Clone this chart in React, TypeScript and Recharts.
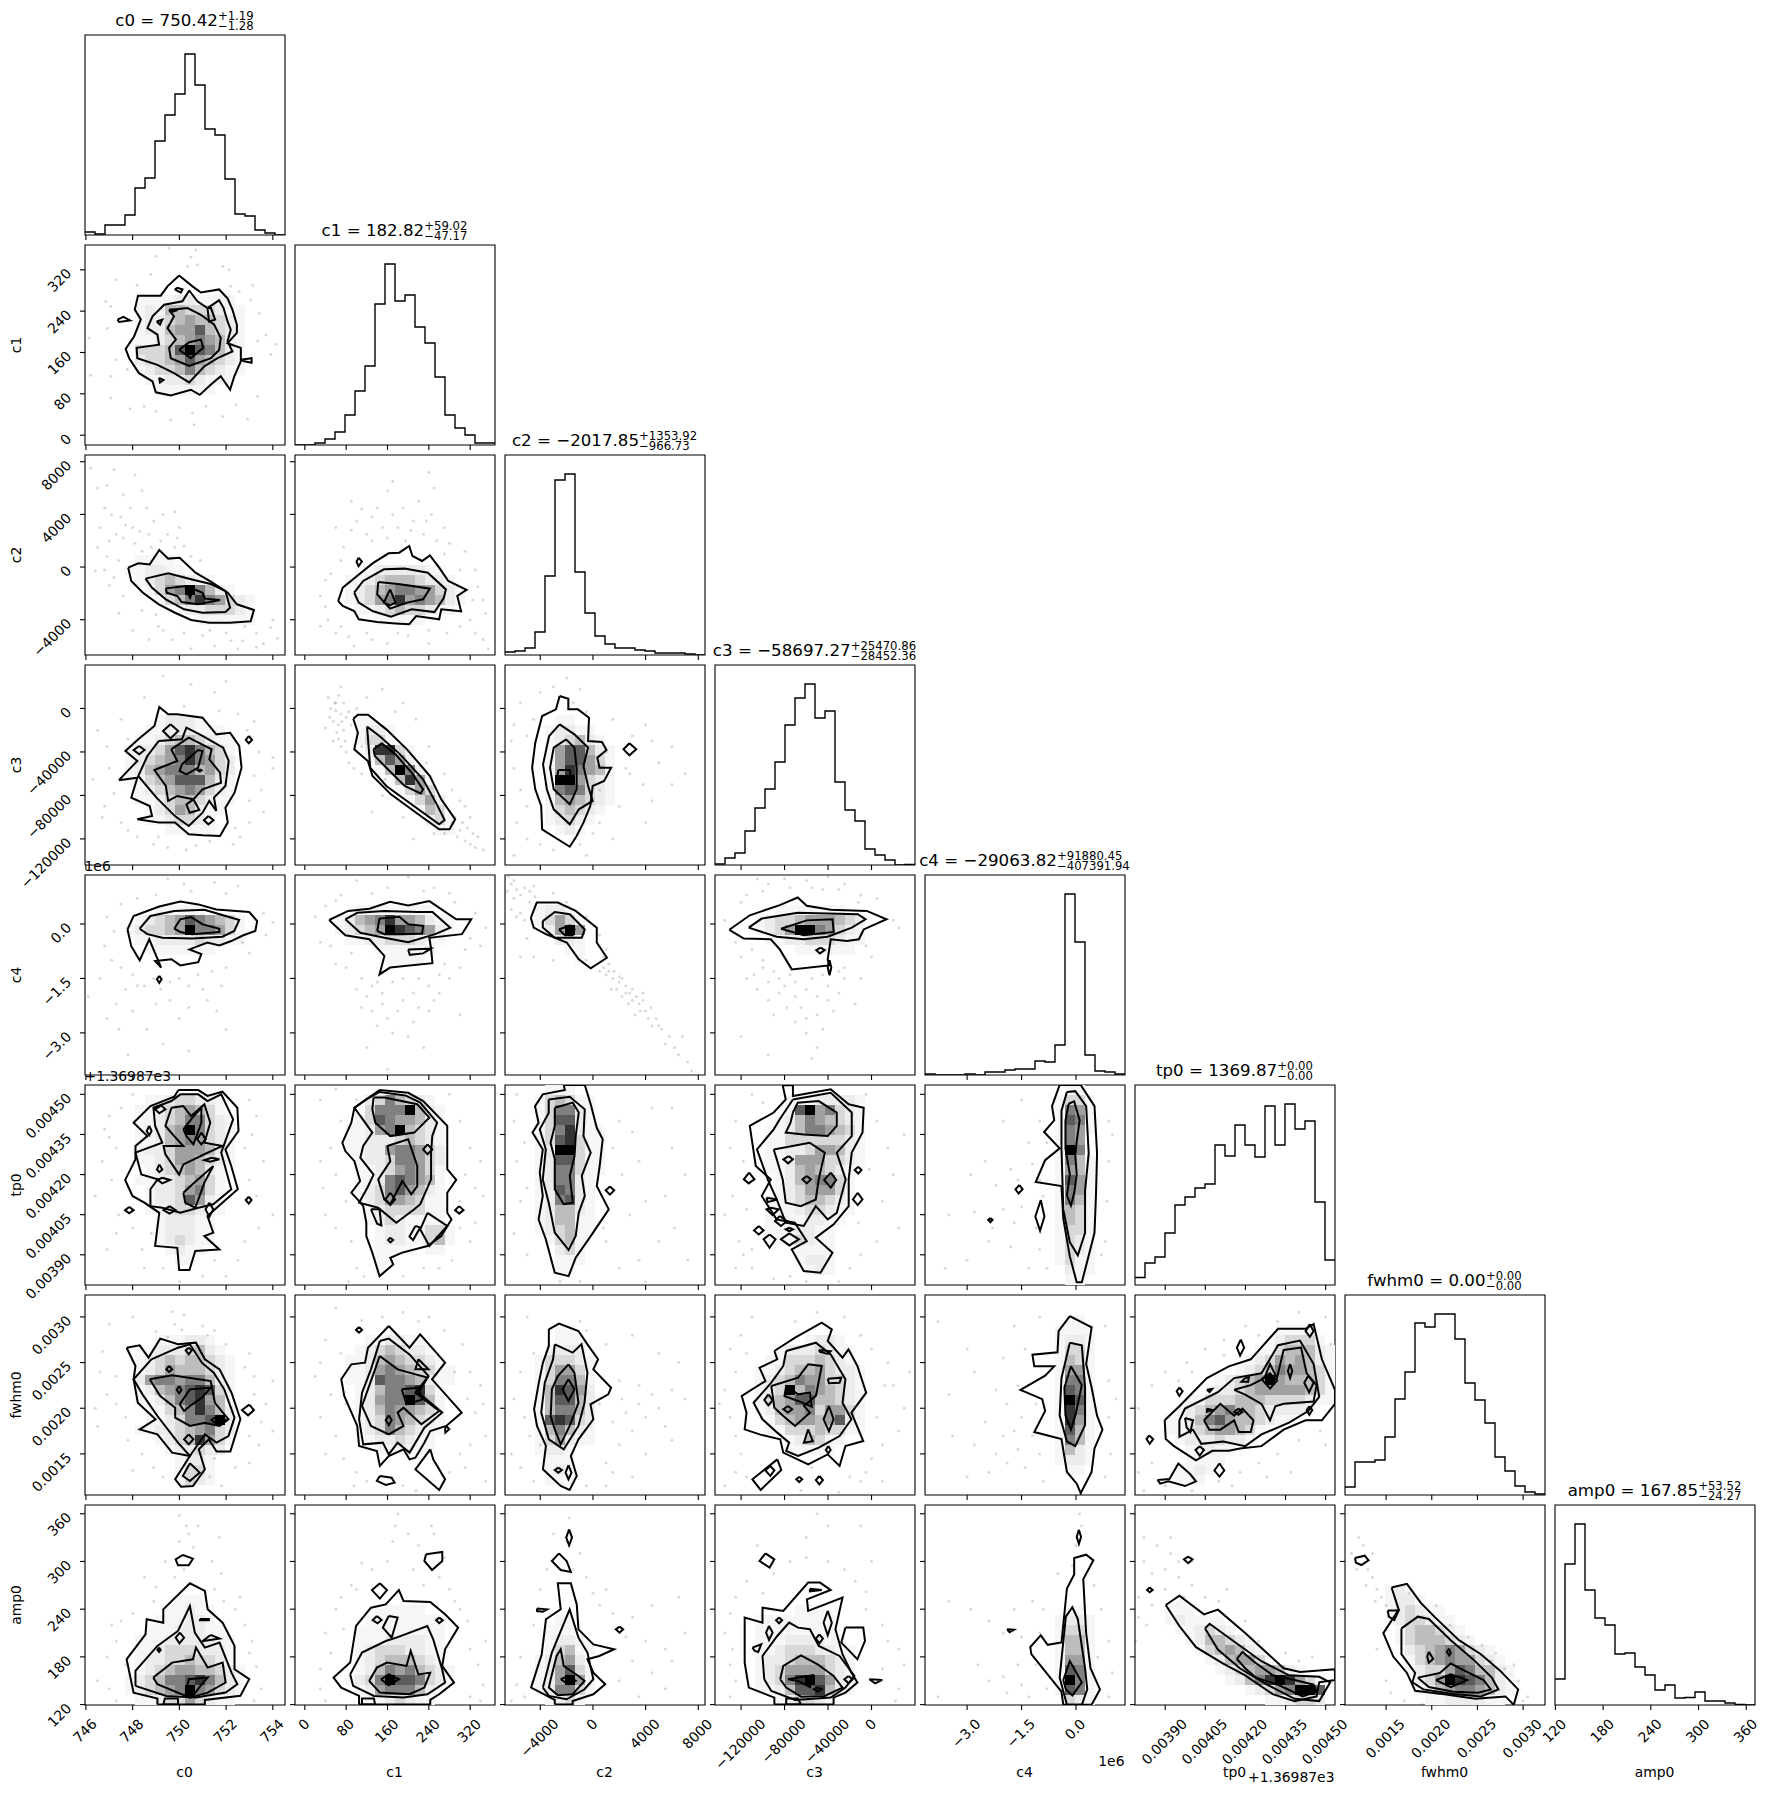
import React from 'react';
import { ComposedChart, Line, Scatter, XAxis, YAxis, ReferenceArea } from 'recharts';

const names = ['c0','c1','c2','c3','c4','tp0','fwhm0','amp0'];
// axis units: c2 in hundreds, c3 in thousands, c4 in 1e6, tp0 and fwhm0 in 1e-5
const domains: [number,number][] = [[745.96,754.52],[-19,368],[-66.8,85.1],[-144,40],[-4.16,1.35],[378.7,453.5],[105,324],[119.5,371]];
const axisTicks = [[746,748,750,752,754],[0,80,160,240,320],[-40,0,40,80],[-120,-80,-40,0],[-3,-1.5,0],[390,405,420,435,450],[150,200,250,300],[120,180,240,300,360]];
const M = '\u2212';
const tickText = [
  (v:number)=>String(v),(v:number)=>String(v),
  (v:number)=>(v<0?M:'')+Math.abs(v*100),
  (v:number)=>(v<0?M:'')+Math.abs(v*1000),
  (v:number)=>(v<0?M:'')+Math.abs(v).toFixed(1),
  (v:number)=>(v/100000).toFixed(5),
  (v:number)=>(v/100000).toFixed(4),
  (v:number)=>String(v),
];
const hists = [
 [3,1,10,10,20,47,57,94,120,141,181,150,106,100,56,21,19,5,2,0],
 [0,0,2,6,13,30,54,79,141,181,144,150,118,102,68,30,17,10,2,2],
 [3,4,7,23,79,175,181,83,42,19,11,7,7,5,4,2,2,2,1,0],
 [1,7,12,34,57,76,103,140,167,181,147,154,83,55,44,16,10,5,0,0.5],
 [1,0,0,0,1,0,3,3,5,6,6,14,13,30,181,133,20,4,3,1],
 [7.5,22,28,52,80,88,97,101,140,129,160,140,128,179,140,181,156,164,83,25],
 [8,33,33,35,58,96,123,172,168,181,181,156,112,95,72,38,24,9,3,1],
 [26,141,181,115,87,80,51,52,38,30,15,20,7,7.5,13,4,4,2,0.5,0],
];
const titles: [string,string,string][] = [
 ['c0 = 750.42','+1.19',M+'1.28'],['c1 = 182.82','+59.02',M+'47.17'],['c2 = '+M+'2017.85','+1353.92',M+'966.73'],
 ['c3 = '+M+'58697.27','+25470.86',M+'28452.36'],['c4 = '+M+'29063.82','+91880.45',M+'407391.94'],['tp0 = 1369.87','+0.00',M+'0.00'],
 ['fwhm0 = 0.00','+0.00',M+'0.00'],['amp0 = 167.85','+53.52',M+'24.27'],
];
const levels = ['#ffffff','#f6f6f6','#ececec','#d8d8d8','#bdbdbd','#a0a0a0','#808080','#5c5c5c','#333333','#000000'];

type PanelData = { bins: [number,number,string[]]; lines: number[][]; dots: number[] };

const c1_c0: PanelData = {
  bins:[5,5,['11112211110','12144333211','12234544321','12245574321','11234565421','33347976421','23345754321','12334643211','01122321110','00111111000']],
  lines:[
   [749.99,309,750.56,288,750.92,276,751.7,282,752.06,265,752.27,243,752.46,214,752.46,198,752.06,178,752.63,169,752.63,143,752.35,114,752.17,88,751.77,114,751.35,98,750.87,78,750.49,88,749.63,77,748.99,83,748.85,104,748.27,120,747.85,149,747.7,167,748.06,191,748.35,224,748.09,243,748.23,270,749.2,270,749.49,288],
   [750.42,280,750.77,259,751.2,246,751.7,261,751.89,246,752.06,220,752.2,204,752.06,182,752.27,162,751.63,149,751.06,133,750.42,102,749.77,120,749.06,136,748.2,149,748.17,169,749.13,175,749.06,194.5,748.63,207,748.85,230,749.35,252.5,750.13,259],
   [749.56,242,750.35,246,750.92,233,751.49,214,751.77,188,751.7,165,751.35,149,750.42,134,749.63,149,749.56,169,749.85,185,749.49,207,749.77,230],
   [749.99,165,750.42,180,750.92,185,751.02,169,750.49,149],
   [747.35,223.5,747.6,229,747.89,222,747.42,219],[749.8,282,749.92,285,750.13,282,750.06,276],[749.03,220,749.27,223.5,749.17,214],
   [752.63,146,753.09,149,753.09,140,752.77,143],[749.13,111,749.32,107,749.17,102],[749.56,243,749.92,242,749.66,238],[751.2,246,751.27,220,751.53,223.5,751.35,246],
  ],
  dots:[749.56,362,750.7,359,748.99,346,750.49,345,750.35,327,750.77,330,751.85,327,752.13,320,747.27,301,748.2,290,748.77,311,752.2,288,753.13,290,752.56,278,753.06,262,746.85,259,747.06,249,753.42,236,746.92,207,746.13,188,753.7,194,753.35,182,754.13,176,753.92,156,747.27,146,746.2,116,747.06,114,747.77,127,753.35,75,747.06,72,747.89,51,748.49,56,748.99,46,749.63,30,750.56,43,750.63,20,751.85,36,752.42,59,752.92,31,751.13,56],
};
const c2_c0: PanelData = {
  bins:[4,10,['0111100000000','1122110000000','0123432110000','0013569642100','0001346865321','0000012233321','0000000111111']],
  lines:[
   [747.81,-0.5,748.24,2.8,748.73,2,749.14,12.9,749.52,6.4,750.01,7.1,750.69,-4.3,751.38,-11.4,752.07,-19.5,752.46,-28.3,753.19,-32.6,753.05,-41.2,752.17,-42.3,751.28,-42.3,750.5,-40.2,749.81,-34.7,749.12,-28.3,748.44,-19.5,747.94,-10.6],
   [748.55,-8.8,749.52,-4.8,750.5,-9.3,751.38,-13.1,751.97,-18.2,752.17,-30.9,751.97,-34.2,750.99,-34.7,750.2,-32.1,749.42,-24.5,748.83,-15.7],
   [749.42,-16.2,750.3,-14.4,750.99,-19.5,751.09,-24,751.74,-25,750.79,-28.3,750.1,-26.6,749.91,-22,749.46,-19.5],
   [750.26,-15.7,750.6,-15.7,750.46,-23.3],
  ],
  dots:[746.2,75,747.2,74,746.9,62,748.1,70,746.8,45,747.1,40,747.5,38,747.7,32,748,30,748.3,27,748.6,45,748.9,35,749.3,40,749.8,42,750,30,747.6,22,748.1,18,748.4,12,748.8,15,749.2,20,749.8,15,750.2,16,750.5,8,750.9,5,746.9,8,746.4,-3,747.2,-8,747,-14,747.6,-22,748.4,-33,749,-36,748,-48,749.3,-48,750.2,-50,751,-52,752,-50,752.7,-56,753.3,-50,753.9,-46,754,-40,754.2,-54,751.5,-60,752.5,-62,753.3,-61,750.5,-62,748.7,-55,746.5,60,747.6,55,748.4,58,747.3,25,747.9,45,748.7,25,749.5,25,749.9,22,746.6,30,747,20,746.5,15,747.4,5,746.8,-2,752.8,-45,753.6,-58,752.2,-56,751.3,-48,749.7,-55,749.1,-45,747.4,-35],
};
const c2_c1: PanelData = {
  bins:[5,11,['0112222211000','1123444322100','1234566553210','1235685654210','0112343321100','0001111100000']],
  lines:[
   [64.5,-25.8,73.4,-15.7,113,-3,131,2.8,162,10.4,182.6,10.9,202,16,208.3,8.4,227,4.6,242,8.9,260,-0.5,277.6,-10.6,313,-17.4,295,-22,302.5,-33.6,264,-32.1,260,-39.7,215.4,-37.2,202,-43.5,175.5,-42.8,140,-41.8,104.4,-39.7,95.6,-33.4,73.4,-29.6],
   [95.6,-19.5,113,-10.6,153,-1.7,193,-1.2,238,-4.3,273,-17,269,-23.3,251,-34.2,206.6,-32.1,166.6,-37.7,131,-33.4,104.4,-27],
   [142,-11.4,184.4,-13.1,242,-16.4,229,-24.5,197.7,-27,165,-31.6,140,-20.7],
   [165,-17,175.5,-27,165,-29.1,153,-27],
   [104,7.1,110.5,4.1,104,0.8,100,4.1],
  ],
  dots:[170,65,240,72,250,60,160,58,90,50,110,44,130,38,190,45,220,50,245,40,270,30,150,30,120,25,180,30,230,25,90,28,60,30,195,20,70,5,270,10,310,12,330,-2,40,-10,30,-22,345,-25,350,-35,30,-45,60,-50,85,-53,95,-60,130,-55,160,-58,200,-52,240,-58,275,-50,300,-45,320,-40,345,-55,355,-62,40,-30,335,-15,100,35,140,45,170,40,210,35,130,20,160,22,205,28,235,35,255,20,280,18,75,15,50,-5,45,-40,300,-2,325,-25,330,-50,240,-48,180,-50,120,-50,70,-45],
};
const c3_c0: PanelData = {
  bins:[4,5,['00012221000','00112221110','01123443211','12235786431','12345686532','12456664532','11345777421','01234565321','01123443211','00123542110','00112332100','00001111100']],
  lines:[
   [747.41,-66,748.2,-63.7,747.94,-82,748.73,-89.7,748.83,-99,748.2,-102,749.12,-105,749.81,-105,750.4,-115.8,750.99,-116.7,751.74,-117.3,752.07,-105,751.97,-91.3,752.36,-77.5,752.66,-54.5,752.56,-34.5,752.17,-22.3,751.58,-23.8,750.99,-8.5,749.91,-5.4,749.52,-5.4,749.14,1.4,748.93,-16.1,748.24,-28.4,747.69,-39.1,748.2,-48.3,747.85,-56],
   [749.12,-29.9,750.11,-28.4,750.3,-17.7,750.99,-25.3,751.87,-36,752.11,-48.3,751.97,-71.3,751.48,-82,751.58,-94.3,751.28,-85,750.99,-95.9,750.4,-108.1,749.81,-99,749.02,-82,748.24,-62.1,748.63,-43.7],
   [749.65,-37.6,750.4,-26.9,751.38,-37.6,751.28,-46.8,751.74,-59,751.78,-68.3,750.99,-74.4,750.6,-83.6,749.91,-80.5,749.52,-85.1,749.42,-71.3,748.93,-56.6,749.91,-48.3],
   [750.11,-51.4,750.8,-38.2,750.99,-39.1,750.8,-54.5,750.3,-60.6,750.01,-57.5],
   [749.62,-14.6,749.95,-20.7,749.62,-27.5,749.3,-20.7],[748.28,-34.5,748.51,-38.2,748.28,-42.2,748.04,-38.2],[752.97,-25.3,753.11,-29,752.97,-32,752.84,-29],[751.24,-98.9,751.46,-102.9,751.24,-106.6,751.05,-102.9],[750.6,-83.6,750.85,-93.4,750.44,-95.9,750.3,-88.2],[750.87,-56,750.95,-56.9,750.87,-58.1,750.79,-56.9],
  ],
  dots:[749.3,30,750.5,22,752,25,751.5,15,748.5,10,749.3,-2,750.2,2,751.7,-2,752.5,-5,753.2,-12,752.9,-20,747.5,-10,746.5,-20,747.8,-28,746.9,-35,753.4,-40,754,-45,747,-55,746.3,-65,747.2,-78,753.2,-62,754,-55,753.5,-75,753,-85,746.8,-90,746.7,-100,747.5,-105,748.2,-118,748.9,-125,749.5,-128,750.3,-130,750.7,-126,751.3,-122,752.3,-125,752.6,-118,753,-105,753.6,-95,752.4,-110,749.1,-118,747.8,-112],
};
const c3_c1: PanelData = {
  bins:[6,5,['110000000000','122100000000','133100000000','028831000000','014752000000','001496200000','000148510000','000013530000','000001352000','000000143000','000000023100','000000001100']],
  lines:[
   [93.8,-9.4,102.7,-5.7,122.2,-5.7,157.7,-19.2,197.7,-37.6,242,-62.1,264,-83.6,291,-102,280,-111.2,260,-111.2,228.8,-100.5,166.6,-79,131,-62.1,122,-48.3,95.6,-37.6,102.7,-22.3],
   [120.4,-16.7,144.4,-25.3,184.4,-42.2,228.8,-65.2,255.4,-88.2,270.5,-102.6,260,-106.6,211,-89.7,157.7,-71.3,126.6,-54.5],
   [132.9,-37.6,148.8,-32.1,175.5,-42.2,206.6,-59,228.8,-74.4,224.3,-78.1,193.2,-71.3,157.7,-54.5,135.5,-43.7],
  ],
  dots:[45,10,70,20,65,12,75,5,50,0,60,-2,70,-5,80,-8,55,-12,65,-15,75,-20,40,-18,85,-3,55,-30,65,-28,80,-40,70,-35,85,-50,100,0,120,10,150,18,190,5,215,-10,240,-35,270,-60,285,-75,310,-90,300,-112,295,-118,310,-122,325,-115,330,-128,345,-130,285,-105,250,-115,190,-100,150,-80,110,-60,130,-95,210,-120,60,5,72,-12,48,-8,62,-22,78,-30,58,5,90,-15,95,-55,110,-35,175,-3,235,-50,300,-85,320,-100,305,-105,315,-110,335,-118,320,-125,290,-100,270,-115,155,-65],
};
const c3_c2: PanelData = {
  bins:[4,5,['0110000000','1221100000','1234210000','1577421000','1577531000','1586541000','1995321000','1676321000','1454321000','1343210000','1232100000','0121000000']],
  lines:[
   [-25.3,11.5,-18.7,9,-18.7,-0.8,-11.4,-0.8,-3,-8.5,-3.7,-29.9,6.8,-30.8,10.3,-38.2,3.3,-45.3,5,-54.5,13.8,-54.5,8.5,-66.7,-0.2,-71.3,-2,-89.7,-7.2,-105,-12.4,-117.3,-17.6,-127.2,-38.6,-111.2,-39.3,-89.7,-43.8,-74.4,-46.2,-54.5,-43.8,-31.5,-38.6,-6.9,-28.1,-0.8],
   [-25.3,-14.6,-14.1,-23.8,-3.7,-36,-7.2,-52.9,-3.7,-71.3,-0.2,-85.1,-10.7,-92.8,-17.6,-106.6,-29.8,-92.8,-35,-74.4,-37.9,-51.4,-33.3,-25.3],
   [-20.4,-28.4,-14.1,-36,-12.4,-54.5,-12.4,-74.4,-17.6,-88.2,-29.8,-74.4,-32.6,-54.5,-29.8,-36],
   [-26.3,-56.6,-17.6,-56.6,-15.9,-68.3,-28,-69.2],
   [27.7,-32,32.9,-37.6,27.7,-43.1,23.2,-37.6],
  ],
  dots:[-30,20,-20,28,-40,15,-10,18,-55,5,-60,-15,-62,-30,-50,-25,-45,-10,-15,5,-5,-3,15,-10,40,-15,45,-30,30,-25,10,-40,25,-55,50,-50,60,-70,70,-60,38,-70,45,-85,20,-90,5,-75,-60,-55,-55,-75,-50,-90,-58,-105,-50,-120,-30,-130,-10,-125,0,-115,5,-105,15,-120,40,-105,-5,-135,-60,-135,-40,-125,28,-60,60,-35],
};
const c4_c0: PanelData = {
  bins:[4,3,['0001111100000','0123457654310','1233459665310','0112222322110','0011111110000']],
  lines:[
   [747.78,-.15,748.04,.22,749.14,.48,750.04,.62,750.81,.54,751.58,.4,752.99,.33,753.33,.08,753.25,-.19,752.74,-.31,752.22,-.47,751.71,-.59,751.2,-.51,750.43,-.7,750.94,-.83,750.81,-1.05,750.04,-1.14,749.66,-.97,748.96,-1.02,749.22,-1.2,748.71,-.42,748.3,-1,747.94,-.61],
   [748.3,-.13,748.76,.22,749.78,.36,751.07,.39,752.56,.11,752.35,-.19,751.84,-.35,750.55,-.4,749.27,-.38,748.63,-.28],
   [749.78,-.13,750.04,.13,750.5,.19,751,-.01,751.71,-.13,751.71,-.22,750.55,-.28,750.04,-.22],
   [749.14,-1.43,749.24,-1.52,749.14,-1.62,749.04,-1.52],
  ],
  dots:[749.5,1.25,750.2,1.1,751.5,1.15,752.5,1.05,752,.85,750.5,.9,749,.8,748.2,.7,747.5,.55,746.9,.2,747.2,-.2,753.6,.3,754,.05,753.7,-.3,752.7,-.5,753,-.8,746.8,-.6,747.1,-1,747.5,-1.2,746.6,-1.5,748,-1.4,748.5,-1.7,749.2,-1.8,750,-1.5,750.8,-1.4,751.4,-1.3,752,-1.2,749.6,-2.1,750.4,-2.3,751.2,-2.1,748,-2.4,747.4,-2.9,748.6,-2.9,749.3,-3.3,750.4,-3.5,752,-2.9,747.8,-3.6,751.8,-1.7,746.1,-2,746.9,-2.6,748.2,-1.7,748.9,-1.5,749.6,-1.6,750.4,-1.7,751,-1.8,747.7,-1.8,749,-2.2,750,-2.6,747.3,-2.2,751.6,-2.4],
};
const c4_c1: PanelData = {
  bins:[4,3,['0011111111000','1245685542110','1234598765210','0112233321100','0000111111000','0000011110000']],
  lines:[
   [47,.11,84,.36,125,.42,165,.61,200,.51,241,.63,293,.13,322,.13,304,-.28,241,-.38,244,-.65,247,-1.08,165,-1.2,144.6,-1.39,154,-.88,125,-.42,78.4,-.31],
   [78.4,.13,101.6,.31,154,.36,217.6,.33,247,.33,281.4,-.1,252.4,-.28,200,-.5,154,-.38,107.4,-.24],
   [140,-.19,144.6,.15,183,.2,200,-.01,229,-.05,227,-.26,188.6,-.28,154,-.28],
   [200,-.7,244,-.68,229,-.81,203,-.85],
  ],
  dots:[100,1.2,200,1.3,160,1,230,.9,280,.85,70,.8,40,.5,20,.2,330,.3,350,-.1,340,-.6,310,-.7,30,-.5,50,-.6,90,-.8,80,-1.2,60,-1.1,270,-1.1,300,-1.2,110,-1.5,130,-1.7,170,-1.6,220,-1.5,240,-1.7,280,-1.5,120,-2,150,-2.2,190,-2.1,220,-2.3,130,-2.4,160,-2.6,210,-2.7,250,-2.1,170,-3,200,-3.1,120,-3.4,230,-3.4,160,-4,300,-2.5,260,-1.9,140,-1.6,190,-1.5,150,-1.9,210,-1.9,110,-2.3,180,-2.4,240,-2.4,140,-2.8,260,-1.4,100,-1.8,130,.85,250,1,290,.6,60,.65,320,-.4],
};
const c4_c2: PanelData = {
  bins:[3,3,['12210','13531','02595','00221','00011','00001']],
  lines:[
   [-47.2,.17,-42.7,.59,-26.7,.59,-13.1,.36,2.9,-.1,2.9,-.51,10.6,-.93,-1.7,-1.22,-10.8,-.97,-19.9,-.51,-35.8,-.28,-45,-.1],
   [-38.1,.08,-29,.33,-17.6,.27,-6.2,-.15,-8.5,-.38,-29,-.38,-38.1,-.1],
   [-25.8,-.15,-17.6,-.04,-14,-.15,-15.3,-.31,-21.3,-.31],
  ],
  dots:[-64,1.3,-62,1.1,-58,.95,-60,.7,-52,1,-48,.9,-45,1.05,-62,.4,-55,.3,-52,.1,-50,-.4,-55,-.9,-30,.85,-20,.6,-5,.2,5,-.3,10,-.7,-45,-.9,-30,-1,-5,-1,12,-1.1,5,-1.3,10,-1.4,15,-1.5,20,-1.6,25,-1.7,18,-1.8,28,-1.9,22,-2,30,-2.1,35,-2.2,40,-2.4,32,-2.5,42,-2.6,48,-2.6,45,-2.8,52,-2.9,58,-3.1,55,-3.3,62,-3.4,65,-3.6,72,-3.8,75,-4.05,68,-3.1,38,-1.9,14,-1.8,-60,1.2,-55,.8,-65,.9,-48,.6,-58,.2,-44,.75,8,-.9,8,-1.2,12,-1.3,16,-1.3,20,-1.45,22,-1.5,25,-1.9,30,-1.8,33,-2,27,-2.2,36,-2.4,38,-2.1,44,-2.3,50,-2.8],
};
const c4_c3: PanelData = {
  bins:[4,3,['00111111100','12334555432','12359965321','01122333211','00001111110']],
  lines:[
   [-130.8,-.16,-112,.24,-84.4,.52,-67.9,.73,-59.6,.5,-37.5,.39,-4.4,.36,13.8,.13,-7.2,-.15,-11.6,-.42,-22.6,-.47,-37.5,-.42,-40.3,-.97,-39.2,-1.14,-73.4,-1.25,-84.4,-.7,-92.7,-.42,-117.5,-.4],
   [-113,-.1,-101,.15,-67.9,.31,-12.7,.27,-5.5,.13,-18.2,-.1,-40.3,-.35,-62.4,-.42,-87.2,-.35],
   [-83.3,-.13,-59.6,.1,-35.9,.13,-34.8,-.22,-62.4,-.31],
   [-46.9,-.65,-43,-.72,-47.5,-.81,-50.8,-.72],[-38.6,-1,-37,-1.2,-38.6,-1.41,-40.3,-1.2],
  ],
  dots:[-105,1.25,-95,1.1,-80,1.25,-60,1.2,-40,1.3,-25,1.1,-45,.95,-100,.9,-115,.8,-10,.8,5,.7,-135,.1,20,.1,25,-.1,-125,-.5,-110,-.7,-5,-.6,0,-.9,-120,-.9,-100,-1.2,-108,-1.4,-95,-1.6,-85,-1.5,-70,-1.6,-55,-1.5,-40,-1.7,-25,-1.5,-10,-1.5,-105,-1.8,-85,-1.9,-70,-2,-50,-2,-30,-1.9,-15,-2.2,-90,-2.5,-70,-2.7,-50,-2.5,-35,-2.4,-60,-3,-50,-3.4,-120,-3.1,-95,-3.6,-55,-3.7,-75,1,-55,1,-30,.95,-12,.6,-120,.6,-100,-1,-90,-1.3,-75,-1.4,-60,-1.8,-45,-1.4,-30,-1.3,-95,-2.1,-80,-1.7,-65,-2.3,-40,-2.1,-60,-2.6,-78,-2.3,-45,-2.9,-25,-1.2,-115,-1.5],
};
const tp0_c0: PanelData = {
  bins:[5,1,['0112332210','1123454310','1123466321','1124596321','1124565321','1223555421','1123554321','0123454210','1122345310','0122356310','0122375210','0112332110','0012221100','0012221100','0012321100','0001211000','0000110000']],
  lines:[
   [749.96,451.6,750.81,451.6,751.2,449.4,751.84,451,752.48,445,752.53,436.3,751.97,429.4,752.22,423.2,752.5,414.5,751.84,409.5,751.2,404.5,751.45,398.3,751.07,397,751.71,392,750.68,391.4,750.43,384.3,749.99,384.3,749.91,392.6,748.96,393.3,749.14,405.7,748.5,409.5,747.99,412,747.68,418,748.12,425.7,748.12,430.7,748.63,434.4,748.04,439.4,748.76,445.6,749.78,449.1],
   [750.04,450,750.81,450,751.2,447.5,751.79,450,752.3,440.7,751.79,428.2,752.22,414.5,751.45,408.9,750.81,407.6,750.04,405.7,749.27,407.6,748.76,408.2,748.76,414.5,749.07,418.2,748.37,420,748.12,428.2,749.27,431.9,748.96,438.2,748.89,445,749.66,447.5],
   [749.66,445,750.17,445.6,750.5,441.9,751.07,446.3,751.32,439.4,751.07,431.9,751.84,430.7,751.07,427.6,750.17,423.8,749.99,420,749.4,427.6,749.32,430.7,750.17,430.7,749.78,434.4,749.4,438.2],
   [750.17,436.9,750.56,441.3,750.94,445,750.94,439.4,750.6,431.3,750.3,434.4],
   [750.17,413.2,750.55,416.3,751.45,423.2,751.07,417,750.68,407.6,750.25,409.5],
   [749.22,445.9,749.4,444.4,749.14,442.9,748.96,444.4],[748.71,438.2,748.81,436.3,748.71,434.7,748.6,436.3],[750.94,435.7,751.12,433.2,750.94,431.3,750.76,433.2],[751.38,426.3,751.71,425.7,751.32,424.8,751.07,425.4],[749.14,423.8,749.27,421.9,749.14,420.9,749.04,421.9],[749.27,418.8,749.6,418,749.27,416.7,749.07,418],[749.58,408.2,749.84,406.7,749.58,405.4,749.32,406.7],[751.28,409.5,751.45,407,751.28,404.2,751.12,407],[747.85,407.9,748.04,406.7,747.85,405.5,747.67,406.7],[752.97,411.7,753.09,410.5,752.97,409.1,752.84,410.5],
  ],
  dots:[748,450,747.5,445,747,442,746.8,437,747.3,430,753,448,753.3,442,753.1,435,753.6,425,752.8,430,746.7,425,747.1,418,746.4,412,747.4,405,747.3,398,746.9,392,753.3,412,754,405,753.4,400,752.8,395,752.5,388,748,400,748.4,392,749.3,385,748.5,385,751.5,388,751,382,750,380,752,382,748.8,398,753,418,747,434],
};
const tp0_c1: PanelData = {
  bins:[5,1,['00236432100','00366694210','01376554210','11256943210','11222343210','11225665320','01223665320','01123565310','01126765410','01236754210','00235543110','00123333110','00123211110','00012211331','00012211341','00011110110','00011000000','00010000000']],
  lines:[
   [144.6,451.6,200,450.6,229,447.5,275.6,438.2,275.6,430.7,275.6,422,293,418,275.6,413.2,275.6,405.7,283.8,403.2,264,397,237.4,393.3,188.6,390.8,165.4,388.9,171,386.4,144.6,382,130.6,390.8,119,397,119,402,113,408.2,105,410.1,90,413.2,107,417.6,96,425,78.4,428.8,72.6,431.9,90,439.4,96,445],
   [144.6,450.9,194.4,449.6,223.4,446.9,256,439.4,246.6,434.4,244.3,428.2,244.3,418.2,223.4,408.9,211.8,407,177,402,142,407.6,105,409.5,121,415.1,133,420,107.4,426.3,113,430.7,130.6,435.7,96,445,119,448.1],
   [133,448.8,153.8,448.8,217.6,446.3,240.8,441.3,211.8,435.7,165.4,434.4,136.4,439.4,130.6,444.4],
   [159.6,430.7,200,433.2,217.6,423.2,217.6,415.7,206,412.6,188.6,417.6,165.4,408.9,153.8,410.7,142,418.2,165.4,425],
   [237.4,431.3,246.6,429.4,237.4,427.6,229,429.4],[165.4,413.2,174.7,410.7,165.4,408.6,156,410.7],[128,407,144.6,407,148,401,140,401.6],[165.4,396.4,171,395.5,165.4,394.6,161,395.5],[214,400.8,223.4,400.2,209.5,395.5,202.5,396.8],[237.4,405.7,275.6,400.8,241,393.3,223.4,399.5],[298.8,408.2,307,406.7,298.8,405.4,290.7,406.7],
  ],
  dots:[30,448,60,452,100,448,280,450,300,440,320,430,340,425,310,420,330,415,345,412,50,430,30,425,60,420,80,410,40,405,60,400,90,395,100,385,85,380,115,382,300,400,320,395,285,388,260,385,70,440,300,410,330,402,35,415,190,382,230,385],
};
const tp0_c2: PanelData = {
  bins:[3,0,['0111000','1343110','1366210','1377210','1368211','1378311','1299311','1277311','1266311','1266210','1276210','1267210','1244210','1244110','1234110','0134100','0023100','0011100','0011000']],
  lines:[
   [-22.2,453.5,-21.3,451.6,-38.1,450,-44,445.6,-41.3,439.4,-45.9,435.7,-38.1,429.4,-40.4,420.7,-38.1,412,-41.3,403.2,-35.8,395.8,-29,383.3,-18.5,382,-13.1,388.9,-1.7,397,12,407,2.9,415.7,5.1,423.2,7.4,433.2,2.9,437.5,-1.7,446.3,-6.2,453.5],
   [-33.6,448.1,-17.6,449.1,-6.2,444.4,-7.2,434.4,-1.7,428.2,-8.5,419.5,-6.2,412,-10.8,405.7,-13.1,397,-18.5,391.8,-29,398.3,-33.6,409.5,-38.1,418.2,-35.8,429.4,-40.4,436.9,-33.6,443],
   [-29,445,-15.3,446.9,-10.8,443.2,-13.1,434.4,-14,426.9,-17.6,419.5,-15.3,409.5,-22.2,408.9,-29,414.5,-29,425.7,-32.2,431.9,-29,438.2],
   [12.9,415.5,16.1,414.1,12.9,412.5,9.7,414.1],
  ],
  dots:[-60,440,-52,432,-58,425,-55,410,-60,398,-50,390,-58,450,20,440,30,436,35,425,22,420,28,405,45,445,60,430,40,410,10,395,20,385,-10,380,35,388,50,395,70,420,55,412,62,400,72,388,-25,380,15,430,8,400,-50,415,40,380,60,445],
};
const tp0_c3: PanelData = {
  bins:[5,1,['0011122221','0017956321','0124654321','1124665431','1133333321','1122355421','1125553321','1124543210','0124566310','0123555310','1123443210','1112332110','1111221100','1112211000','1113211000','0001111000','0001221000','0000121000']],
  lines:[
   [-81.7,453.4,-72.3,453.4,-72.3,449.4,-37.5,451.9,-21,446.3,-7.2,445,-8.3,435.7,-18.2,428.2,-21,418.2,-21,408.2,-34.8,401.4,-51.3,396.4,-35.9,390.8,-46.9,383.3,-62.4,383.9,-73.4,392,-59.6,395.1,-70.6,402,-87.2,403.2,-101,412,-92.7,418.2,-106.5,423.2,-112,438.2,-90,443.2,-78.9,448.1],
   [-72.3,448.1,-37.5,450.6,-18.2,443.2,-18.2,434.4,-32,428.2,-23.8,418.2,-32,405.7,-40.3,403.2,-51.3,408.2,-62.4,400.8,-78.9,402,-87.2,410.7,-95.5,418.2,-105.4,429.4,-90,436.9,-84.4,440.7],
   [-72.3,443.2,-67.9,446.9,-48.6,447.5,-32,443.2,-32,438.2,-40.3,434.4,-62.4,435,-78.9,435.7,-74.5,439.4],
   [-90,429.4,-56.9,431.9,-43,428.2,-48.6,418.2,-51.3,410.7,-65.1,408.2,-78.9,409.5,-81.7,418.2,-87.2,425.7],
   [-112.6,420.7,-107.7,418.2,-113,416.7,-117.5,418.2],[-76.2,426.9,-72.3,425.7,-76.7,424.2,-81.1,425.7],[-37.5,420.7,-32.5,418,-37.5,415.1,-43.6,418],[-12.2,422.9,-9.2,421.7,-12.2,420.4,-15.5,421.7],[-12.7,413.2,-8.3,410.7,-12.7,408.6,-17.1,410.7],[-59.6,419.5,-55.7,418.2,-59.6,416.7,-63.5,418.2],[-96.6,411.3,-86.6,410.7,-95.5,409.7],[-92.7,407.6,-85.5,407,-91,404.8,-96.6,407],[-84.4,404.5,-77.8,402.6,-83.3,400.8,-88.8,402.6],[-103.7,400.8,-99.3,399.1,-103.7,397.6,-108.1,399.1],[-93.8,397.6,-88.3,395.8,-93.8,392.6,-99.3,395.8],[-75.6,398,-66.8,395.8,-75.6,393.5,-83.3,395.8],[-75.6,400.1,-72.3,399.5,-75.6,398.8,-78.9,399.5],
  ],
  dots:[-125,440,-130,430,-118,425,-128,412,-135,405,-122,395,-118,390,-110,385,-125,385,-5,450,5,440,15,430,20,420,10,410,25,400,5,395,-10,390,-20,385,-30,380,-60,380,-90,381,-105,440,-110,450,-115,407,-110,392,30,435,-12,402,-2,422,-75,382,-100,447],
};
const tp0_c4: PanelData = {
  bins:[13,0,['0110','1331','1651','1761','1651','1650','1960','1641','1541','1751','1651','1641','1431','1431','1331','1321','1321','1311','0211','0110']],
  lines:[
   [-.45,453.5,-.66,445.6,-.6,440.3,-.88,435.9,-.45,429.8,-.85,425.4,-1.11,417.2,-.4,415.7,-.35,403.5,-.17,389.4,.02,379.7,.16,379.7,.31,387.6,.51,398.2,.55,412.2,.58,428,.51,445.6,.13,453.5],
   [-.25,450.9,-.02,451.2,.28,445.6,.35,428,.25,414,.25,398.2,.05,389.8,-.17,394.7,-.35,407,-.4,429.8,-.4,443.9],
   [-.2,446.5,-.05,447.4,.1,440.3,.02,432.4,-.02,427.2,.02,420.1,-.05,413.1,-.14,408.4,-.25,412.2,-.17,420.1,-.29,429.8,-.29,440.3],
   [-1.56,416.1,-1.47,414.5,-1.58,412.9,-1.67,414.5],[-2.36,403.8,-2.3,403.1,-2.36,402.2,-2.42,403.1],[-.97,410.5,-.87,404.3,-.99,399,-1.12,404.3],
  ],
  dots:[-1.5,448,-2,440,-1,440,-1.3,432,-2.5,425,-1.8,422,-1.2,424,-1.6,418,-2.9,420,-2.2,416,-1,418,-.9,412,-1.5,408,-2,407,-2.8,406,-3.5,405,-1.7,402,-1.1,400,-2.4,395,-3,388,-3.6,385,-1.8,393,-1,392,-.8,385,-.8,432,.9,440,.9,425,.85,410,.8,395,.7,390,1,435,-1.3,385,-2.3,400],
};
const fw_c0: PanelData = {
  bins:[5,4,['00111221000','11222342100','12343443210','12354443210','25665664210','12456787310','11246785410','01134686420','01123667920','11223456320','00123485310','00012232200','00001221000','00001331000','00001321000']],
  lines:[
   [747.74,266.3,748.3,268.9,748.68,255.4,749.18,276.2,749.94,270,750.71,271.8,751.09,253.6,751.72,242.6,752.23,217,752.61,187.9,752.18,152.5,751.59,152.5,751.26,166,750.83,155,751.09,133.1,750.58,114.9,750.07,114.1,749.82,122.2,750.45,147.7,749.69,151.4,749.06,171.4,748.3,176.9,748.98,187.9,748.22,206,748.04,231.7,748.12,246.3],
   [748.8,253.6,749.94,266.3,750.45,270,750.96,249.9,751.47,239,751.92,220.7,752.36,189.7,752.1,169.6,751.59,162.3,751.09,171.4,750.45,147.7,749.94,162.3,749.06,191.5,748.42,215.2,748.04,231.7],
   [748.73,231.7,749.69,236,751.34,229.8,751.52,206,752.1,187.9,751.72,180.6,751.09,184.2,750.45,180.6,749.82,189.7,749.82,200.6,749.18,213.4],
   [750.01,204.3,750.45,220.7,751.34,222.5,750.96,211.5,750.45,202.4,750.2,197],
   [750.4,266.3,750.53,263.4,750.4,259,750.27,263.4],[749.56,246.3,749.69,242.6,749.56,239.7,749.44,242.6],[749.99,224.4,750.09,220,749.99,216.3,749.89,220],[751.67,192.2,751.98,187.1,751.67,181.3,751.37,187.1],[750.4,171.4,750.6,166,750.4,160.5,750.2,166],[752.99,204,753.19,198,752.94,192.2,752.68,198],[750.45,139.7,750.87,129.5,750.45,120.3,750.15,125.8],
  ],
  dots:[749.7,306,750.2,302,749.8,292,750.1,286,751,290,751.5,285,751.2,280,748,300,747,292,749,284,749.5,278,752,270,753,260,752.8,245,753.2,235,754,230,746.7,262,746.6,240,747.3,235,746.9,215,747.3,205,746.4,200,747.7,190,753.2,215,753.7,205,753.5,185,754,175,753,170,753.4,160,747.8,165,748.4,150,748.9,135,749.3,125,751.5,145,752.4,135,753,140,751.3,125,751.8,115,748,132,746.5,180],
};
const fw_c1: PanelData = {
  bins:[5,4,['00112211000','01234322100','11245433210','11256543311','11276654211','01246678310','01256697410','01246554310','01236543210','01236432110','00122321100','00011111100']],
  lines:[
   [162.4,290,202.6,266.3,223.2,280.9,271.4,249.9,246.2,231.7,303.6,195.2,273.7,180.6,242.7,175,231.3,162.3,214,145.9,202.6,144,191,155,162.4,147.7,145.2,136.8,139.4,153.2,105,158.7,101.5,180.6,76.3,213.4,70.5,231.7,90,248.1,116.5,249.9,122.2,266.3],
   [145.2,273.6,162.4,276.2,202.6,259,239.3,235.3,220,217,265.9,195.2,231.3,178.7,202.6,151.4,179.6,162.3,162.4,149.5,151,162.3,113,160.5,105,187.9,110.7,217,128,242.6],
   [145,257.2,179.6,242.6,237,233.5,214,217,260,197,225.5,182.4,191,200.6,179.6,195.2,191,180.6,162.4,171.4,128,180.6,110.7,202.5,133.7,239],
   [187.6,220.7,219.8,222.5,227.9,209.7,196.9,204.3],
   [105,289,110.7,285.7,105,282.8,99,285.7],[219.8,253.6,239.3,242.6,214,242.6],[162.4,192.2,168,187,162.4,181.3,156.6,187],[273.7,180.6,279.4,177,272,173.3,271.4,177],[145.2,125.8,168,124,173.8,118.5,156.6,116,139.4,120.5],[242.7,155,214,133,260,110.5,271.4,122.2,248.5,144],
  ],
  dots:[60,310,150,300,240,300,220,295,190,305,270,285,305,270,40,275,30,250,20,235,50,215,30,190,60,170,40,150,75,145,320,240,340,225,345,205,330,195,350,170,320,160,300,150,280,130,310,135,100,130,120,120,95,115,190,115,215,110,80,205,70,260,110,296,290,240,315,210,350,120],
};
const fw_c2: PanelData = {
  bins:[3,3,['001100','001110','012220','133321','135531','136641','148752','147742','146642','178732','146421','135211','122100','011100','012100','011100']],
  lines:[
   [-33.5,286.4,-25.8,292.6,-11,284.6,-4.2,270,3.9,253.6,.3,242.6,13.8,222.5,11.6,215.2,-1.9,204.3,.3,187.9,-11,166,-16.8,147.7,-12.3,125.8,-17.7,110.5,-24.5,114.9,-38,133.1,-35.7,158.7,-42.5,180.6,-44.7,198.8,-41.1,228,-38,249.9,-33.5,268.2],
   [-29,270,-15.4,260.9,-8.7,270,-4.2,239,-6.4,206,-11,180.6,-22.2,155,-33.5,166,-39.3,195.2,-36.6,228,-30.3,253.6],
   [-18.6,248.1,-14.1,239,-11,206,-17.7,180.6,-24.5,160.5,-29,176.9,-32.1,191.5,-31.2,220.7,-26.7,235.3],
   [-18.6,231.7,-14.1,220.7,-18.6,207.9,-23.1,220.7],
   [-26.3,134.9,-23.6,132.3,-26.3,129.4,-29,132.3],[-18.6,137.8,-16.3,129.4,-18.6,122.2,-20.8,129.4],
  ],
  dots:[-50,300,-10,295,-5,285,10,270,30,280,-45,260,-55,240,-60,210,-52,190,-48,170,-40,160,20,230,35,225,45,215,60,220,70,210,25,195,40,190,55,180,30,175,20,160,40,150,60,165,10,140,15,130,30,125,50,200,-55,135,-45,120,-5,115,10,115,-62,150,5,205,65,250,50,260,22,210,15,185,35,205],
};
const fw_c3: PanelData = {
  bins:[4,4,['00000122100','00122232110','01133343210','11234453221','12346553321','12394654321','13457744321','12455635531','01345545721','01133343311','00012431100','00011111000']],
  lines:[
   [-89.4,262.7,-70.3,277.3,-45.8,293.7,-36.5,286.4,-40.3,273.6,-26.7,255.4,-21.2,264.5,-13,246.3,-4.9,217,-18.5,195.2,-7.6,164.1,-24,158.7,-29.4,136.8,-40.3,149.5,-58.3,138.6,-81.2,151.4,-84,166,-103,171.4,-116.7,176.9,-115,195.2,-119.4,213.4,-97.6,229.8,-103,244.4,-86.7,253.6],
   [-78.5,262.7,-51.2,271.8,-37.6,259,-24,231.7,-26.7,206,-18.5,187.9,-29.4,169.6,-48.5,156.8,-67.6,147.7,-78.5,153.2,-75.8,162.3,-86.7,173.3,-100.3,187.9,-108.5,206,-92.2,228,-81.2,246.3],
   [-92.2,224.4,-67.6,233.5,-58.3,248.1,-45.8,246.3,-51.2,213.4,-62.2,202.5,-56.7,195.2,-70.3,180.6,-81.2,191.5,-89.4,200.6],
   [-78.5,224.4,-67.6,215.2,-56.7,217,-55,201.7,-67.6,208,-80.1,213.4],
   [-48.5,263.8,-37.6,262.3,-40.3,259.4,-47.4,261.6],[-40.3,232.4,-27.8,233.5,-29.4,228,-39.2,227.3],[-94.9,215.2,-91,208.9,-94.9,203.1,-98.7,209],[-76.9,202.5,-73,198.8,-76.9,195.2,-81.2,198.8],[-39.2,202.5,-34.9,187.9,-39.2,175,-44.1,187.9],[-58.3,176.9,-54,164,-62.2,162.3],[-39.8,158.7,-37.6,154.3,-39.8,150.6,-42,154.3],[-86.7,144,-83,132.4,-102,110.5,-109.6,122.2],[-93.2,136.8,-89.4,132,-93.2,125.8,-97.6,132],[-66.5,125,-63.8,122.2,-66.5,119.2,-69.2,122.2],[-48,125.8,-44.7,121.4,-48,116.7,-51.2,121.4],
  ],
  dots:[-110,300,-70,295,-50,305,-25,300,-10,280,0,265,15,250,20,225,30,200,25,175,10,160,0,145,-5,130,10,120,-120,280,-130,265,-125,240,-135,220,-130,190,-125,170,-120,150,-125,130,-135,115,-115,125,-65,110,-30,108,-20,125,-55,135,5,190,-140,205,-115,260,12,225,-10,120,35,240],
};
const fw_c4: PanelData = {
  bins:[13,2,['0110','1111','1221','1331','1431','1551','1661','1761','1971','1861','1851','1741','1641','1421','1221','0110']],
  lines:[
   [-.17,300.9,.43,288.5,.28,248.4,.43,222.7,.58,191.9,.73,176.5,.51,156,.43,130.2,.13,107,.02,117.4,-.25,130.2,-.4,166.2,-1.15,173.9,-.85,197,-.93,209.9,-1.53,220.2,-.85,235.6,-.6,245.9,-1.15,245.9,-1.2,258.7,-.51,261.3,-.48,284.4],
   [-.17,271.6,.16,269,.25,222.7,.25,181.6,-.02,158.5,-.25,163.6,-.45,191.9,-.4,233],
   [-.14,245.9,.16,225.3,-.02,191.9,-.14,176.5,-.29,191.9,-.32,222.7],
  ],
  dots:[-3.8,295,-3,265,-2.8,240,-2,255,-1.7,290,-1,300,-1.4,265,-3.5,215,-2.2,220,-1.9,205,-1.5,190,-1.2,170,-2.5,185,-3.4,170,-2.8,160,-2,170,-1.6,155,-1.9,140,-1.4,135,-2.4,130,-3,125,-1,150,-.9,120,.8,290,.9,230,.9,190,.95,150,.8,125,1.1,210,-1.1,205,-1.6,225,-2.2,150,-1.7,175],
};
const fw_tp: PanelData = {
  bins:[3,3,['00000000000111100','00000000001233310','00000000011344421','00000000123545421','00000001234655431','00000123459544431','00001223455555431','00113334443333211','01234564432222100','11246754432110000','11234554310000000','01222322100000000','00112110000000000','00111100000000000','01121000000000000','01110000000000000']],
  lines:[
   [389.8,186.8,395.3,202.2,405.6,233,413.8,245.9,422,253.6,432.2,287,442.5,287,445.5,292.1,448.6,253.6,453.5,220.2,453.5,204.8,448.6,186.8,442.5,186.8,434.3,176.5,426,158.5,417.9,156,413.8,153.4,407.6,153.4,401.5,143,393.3,158.5,390.2,166.2],
   [395.3,186.8,397.4,199.6,409.7,217.6,415.8,233,426,238.2,432.2,269,440.4,274.1,445.5,248.4,447.6,212.5,443.5,197,436.3,184.2,426,171.3,419.9,158.5,411.7,163.6,403.5,161,400.4,176.5,395.3,168.8],
   [415.8,220.2,422,225.3,427.1,233,429.2,248.4,431.8,233,434.3,263.9,440.8,266.4,442.9,238.2,446.6,225.3,445.5,207.3,434.3,204.8,431.2,202.2,429.2,186.8,426,204.8,419.9,215],
   [404.5,186.8,410.6,204.8,415.8,191.9,418.9,199.6,423,186.8,422,173.9,417.5,173.9,415.8,186.8,410.6,176.5,406.5,176.5],
   [426,231.9,429.2,238.2,431.8,230.2,429.2,221.7],[418.3,275.2,419.5,266.4,418,257.7,416.8,266.4],[436.7,248.4,437.5,240.7,436.7,233,435.9,240.7],[444.1,292.1,445.5,284.4,444.1,278.3,442.5,284.4],[443.5,235.6,445.5,227.9,443.8,217.6,442,227.9],[395.3,222.7,396.5,218.6,395.3,213.5,394.3,218.6],[405.6,220.2,407.6,221.2,406.6,217.6],[405.6,199.6,407.6,198.1,405.6,196],[419.9,233,421.3,234,421,228.9,418.5,228.9],[384,170.3,385.5,166.2,384.2,161,383,166.2],[397.4,189.4,400.4,186.8,399.4,174,398,179],[417.4,199.6,418.9,196,417.4,192.9,415.8,196],[402.9,158.5,404.5,154.3,402.9,148.2,401.3,154.3],[410.3,139.5,412.1,131.8,410.3,125,408.4,131.8],[387.1,121.5,391.6,122.5,394.9,139.5,399.4,127.7,401.5,120,397.4,114.8,391.2,120,388.1,117.4],[443.9,202.2,445,198.1,443.9,192.9,442.9,198.1],
  ],
  dots:[440,305,432,295,420,290,412,275,405,265,398,250,390,240,385,225,380,200,395,230,425,280,450,300,452,270,448,175,440,165,432,150,425,140,418,130,410,120,400,110,385,140,380,130,437,130,428,125,390,115,382,110,450,160,400,240,412,258,415,115],
};
const amp_c0: PanelData = {
  bins:[4,9,['000001110000','000011211000','000111221000','001112221100','011122222110','011233322210','012233433210','012345544321','123466786421','123456965321','011233532110']],
  lines:[
   [749.06,120,749.06,127.6,748.04,135,747.74,177,748.55,208.4,748.6,227.3,749.31,223,749.31,239.8,750.45,272.5,751.09,262.9,751.21,239.8,751.85,223,752.36,193.8,752.36,164.4,752.99,152,752.61,131,751.09,125.9,751.09,120],
   [748.12,143.5,748.12,162.3,749.06,193.8,749.94,212.6,750.45,244,750.66,210.5,751.09,191.7,751.72,198,752.23,160.2,752.48,145.6,751.98,135.1,750.71,128.8,749.44,130.9],
   [748.88,154,749.69,172.8,750.58,177,750.71,191.7,751.21,166.5,751.85,172.8,751.98,147.7,751.21,135.1,750.45,128.8,749.06,145.6],
   [750.25,130.9,750.4,151.9,751.21,154,750.96,145.6,750.58,130.9],
   [749.31,120,749.38,127.6,749.94,127.6,749.94,120],
   [750.15,308.2,750.58,303.5,750.4,295.2,749.94,295.2,749.84,302.7],[750.02,210.5,750.2,204.2,750,197.1,749.84,204.2],[750.88,227.7,751.26,227.7,751.26,226,750.88,226],[751.34,207.6,751.72,203,750.98,199.6],[749.13,191.7,749.2,188.7,749.13,186.2,749.06,188.7],
  ],
  dots:[750,358,750.3,345,750.4,335,750,325,750.6,318,749.4,300,750.2,290,751.4,300,751.8,285,749.8,280,749,268,751.5,265,751.9,250,748.9,250,748,235,747.5,225,747.1,220,752.4,240,752.8,220,753.1,200,753,185,753.3,168,747.3,200,746.9,180,746.5,150,747,140,747.3,125,753.5,140,753.2,125,752.6,255,750.8,345,748.5,280,747.7,170,751.7,330],
};
const amp_c1: PanelData = {
  bins:[5,10,['00011111000','00111111110','01111111110','01112222110','01233322110','01234443210','01246564321','12369776321','01256664210','00112321100']],
  lines:[
   [105,120,105,130.9,70.5,141.4,55.6,154,87.8,172.8,99.2,218.9,128,241.9,156.6,246,182,264,191,250.3,242.7,249,271.4,233.6,296.7,216.8,271.4,189.6,265.7,168.6,288.7,147.7,260,133,242.7,125.9,242.7,120],
   [87.8,158,110.7,185.4,156.6,200,177.3,204.2,237,218.9,248.5,202,265.7,164.4,271.4,147.7,237,133,191,128.8,133.7,130.9,93.5,143.5],
   [124.5,149.8,139.4,166.5,159,172.8,196.8,168.6,204.9,187.5,219.8,158,242.7,160.2,231.3,141.4,202.6,133,145.2,135.1],
   [147.5,151.9,162.4,158,182,151.9,162.4,144.3],
   [110.7,120,110.7,127.6,133.7,127.6,136,120],
   [145.2,272.5,159,264,145.2,253.3,130,264],[234.7,309,266,312,266,300.6,246.2,289.3,231.3,300.6],[139.4,231.5,148.6,226.4,140.6,222.3,131.4,226.4],[162.4,231.5,179.6,229.4,168.1,204.2,151,216.8],[260,229.4,266.9,226,260,222.3,254.2,226],
  ],
  dots:[180,360,175,345,170,325,200,335,220,320,245,345,250,335,160,300,110,298,130,290,210,290,260,280,230,270,280,265,290,250,300,240,315,225,90,270,70,255,60,240,40,210,50,185,30,165,30,140,40,125,320,190,335,170,345,145,320,130,340,125,100,265,270,305,75,215,350,200],
};
const amp_c2: PanelData = {
  bins:[3,11,['0011000','0111000','0122100','0134110','1245200','1257310','1259510','1266310','0123100']],
  lines:[
   [-29,120,-29,125.9,-47,141.4,-38.9,183.3,-35.7,227.3,-24.5,239.8,-26.7,272.5,-16.8,272.5,-12.3,246,-11,214.6,.3,195.7,16.1,189.6,4.8,181.2,-4.2,177,.3,160.2,9.3,145.6,.3,133,-15.4,124.6,-15.4,120],
   [-38,141.4,-31.2,185.4,-17.7,239.8,-11,204.2,-4.2,185.4,.3,151.9,-6.4,139.3,-20,126.7,-33.5,130.9],
   [-32.1,151.9,-27.6,181.2,-24.5,189.6,-22.2,168.6,-11,156,-6.4,149.8,-15.4,133,-26.7,131.8,-33.5,141.4],
   [-24.5,151.9,-18.6,156,-13.2,149.8,-18.6,145.6],
   [-18.1,340.4,-15.9,330,-18.1,320.3,-20.3,330],[-25.8,310.2,-20,300.6,-16.8,286.8,-24.5,289.3,-31.2,300.6],[-42.5,241,-34.8,239.8,-38,236.9,-42.5,237.7],[20.2,218,22.9,214.7,20.2,210.5,17.4,214.7],
  ],
  dots:[-18,355,-20,325,-10,310,-15,290,-5,280,0,260,5,245,15,235,30,230,45,245,25,205,40,200,55,190,30,175,45,160,60,175,20,150,35,130,55,140,70,210,-40,265,-45,220,-55,180,-58,145,-52,130,-62,125,10,265,-35,290,65,255,-30,335],
};
const amp_c3: PanelData = {
  bins:[4,10,['0000111000','1111111100','1111111100','1112222110','1123332211','1223444321','1235555321','1236897521','1124778421','0012332100']],
  lines:[
   [-89.4,120,-89.4,128.8,-112.9,141.4,-116.7,172.8,-116.7,229.4,-100.3,223.1,-100.3,241.9,-81.2,237.8,-58.3,273.4,-47.4,273.4,-37.6,264.2,-59.4,252.4,-58.3,237.8,-26.7,254.5,-33.2,214.7,-26.7,183.3,-18.5,160.2,-13,147.7,-24,135.1,-34.9,128.8,-34.9,120],
   [-98.7,151.9,-100.3,181.2,-86.7,206.3,-75.8,223.1,-67.6,216.8,-56.7,214.7,-48.5,193.8,-29.4,181.2,-15.8,156,-24,141.4,-37.6,128.8,-70.3,125.9,-92.2,137.2],
   [-84,151.9,-81.2,168.6,-64.9,182,-49.6,170.7,-34.9,156,-26.7,141.4,-43,130.9,-64.9,130,-78.5,141.4],
   [-76.9,151.9,-53.9,156.9,-56.7,142.2,-67.6,149.8],
   [-78.5,120,-78.5,127.6,-67.6,127.6,-64.9,120],
   [-97.6,310.2,-89.4,302.7,-93.8,292.2,-103,300.6],[-56.7,265.8,-45.8,264.2,-56.7,262.5],[-85,229.4,-82.3,226,-85,222.3,-87.8,226],[-94.3,218.9,-91,210.5,-94.3,201.3,-97,210.5],[-40.3,237.8,-36.5,223,-40.3,207.2,-44.1,223],[-48,208.4,-44.7,203,-48,197.1,-51.2,203],[-109.6,191.7,-101.4,195.9,-104.2,186.2,-107.4,187.5],[-21.2,156,-17.4,151.9,-21.2,146.8,-25,151.9],[-2.1,151.9,9.9,151,3.3,146.8],[-49.6,141.4,-45.8,139.3,-49.6,136.4,-52.9,139.3],[-24,216.8,-7.6,216.8,-6,200,-13,177,-27.8,198],
  ],
  dots:[-50,360,-40,345,-60,330,-105,320,-75,300,-60,305,-40,300,-25,290,-15,275,-5,262,-115,275,-125,255,-130,235,-135,210,-128,190,-130,170,-125,150,-130,130,-5,240,10,220,15,200,25,190,10,165,25,140,22,125,-90,285,0,300,-115,155,30,170,-100,260,-10,345],
};
const amp_c4: PanelData = {
  bins:[13,10,['0110','1221','1331','1441','1441','1551','1761','1961','1761','0321']],
  lines:[
   [-.35,119.7,-.4,136.2,-1.23,183.4,-1.26,192.2,-.97,207,-.78,195.2,-.4,198.1,-.25,266,-.05,283.7,-.05,304.3,.28,308.5,.48,301.4,.2,277.8,.28,209.9,.4,165.7,.66,139.1,.43,119.7],
   [-.25,119.7,-.45,153.9,-.28,230.6,-.1,242.4,.05,227.6,.25,165.7,.31,139.1,.16,119.7],
   [-.35,150.9,-.17,174.5,.05,156.8,.16,148,-.1,131.5,-.28,139.1],
   [.08,339.7,.14,330.9,.08,322,.02,330.9],[-1.9,214.7,-1.71,214,-1.83,211],
  ],
  dots:[-3.5,250,-2.9,240,-2.4,225,-2,210,-1.5,205,-1.2,250,-1.6,170,-2,155,-2.4,150,-1.9,135,-1.5,145,-1.1,170,-1.3,130,-2.7,170,-1,210,-3.8,130,.1,360,.15,345,0,320,-.1,295,.5,270,.7,240,.9,200,1,160,.9,130,-.5,285,-.9,240,-.8,140,-1.7,240,.6,180],
};
const amp_tp: PanelData = {
  bins:[3,9,['0100000000000000','1110000000000000','1211110000000000','0112321000000000','0012443210000000','0001345421000000','0000124553100000','0000012345542100','0000001246898531','0000000012356997','0000000000112332']],
  lines:[
   [390.2,245.3,395.3,257,404.5,233.5,409.7,239.4,419.9,210,434.3,165.7,440.4,161,453.5,164.5,453.5,150.9,447.6,148,446.6,130.3,438.4,124.4,430.2,133.2,419.9,156.8,411.7,171.6,401.5,192.2,395.3,218.8],
   [404.9,215.8,406.6,221.7,413.8,204,426,174.5,436.3,156.8,447.6,155,451.7,148,447.6,124.4,438.4,127.3,428.1,145,417.9,165.7,409.7,189.3],
   [416.8,177.5,418.9,186.3,423,174.5,430.2,156.8,438.4,150.9,445.5,145,446.6,136.2,441.4,130.3,432.2,145,424,153.9,419.9,165.7],
   [398.6,306.1,400.2,302.6,398.6,297.8,397,302.6],[384.2,267.2,385.3,264.2,384.2,261.3,383.2,264.2],
  ],
  dots:[382,330,387,320,392,310,395,300,390,290,395,280,400,270,385,285,380,255,385,245,405,255,410,250,382,300,400,300,392,330,413,265,380,230,440,175,445,180,425,200,383,220,435,185,420,225,390,265,397,255,378.9,200],
};
const amp_fw: PanelData = {
  bins:[4,8,['12100000000000','12210000000000','12321100000000','12332110000000','01344321000000','01344432100000','00234565321000','00134565532100','00123357644210','00023598764210','00012456654210','00001122221100']],
  lines:[
   [156,267.2,172.8,271.9,187.8,248.3,202.8,230.6,229.8,201,253.8,183.4,274.8,162.7,294.6,139.1,289.8,119.7,280.8,130.3,247.8,127.3,211.8,133.2,181.8,137.4,172.8,159.8,157.8,180.4,147,209.9,163.8,239.4],
   [166.8,215.8,184.8,230.6,196.8,227.6,220.8,201,244.8,177.5,265.8,153.9,273,139.1,253.8,130.3,223.8,133.2,190.8,139.1,178.8,148,181.8,159.8,166.8,183.4],
   [184.8,153.9,208.8,159.8,220.8,171.6,235.8,162.7,256.8,150.9,264.6,139.1,250.8,135,223.8,136.2,196.8,142],
   [204.6,150.9,220.8,158,238.8,150.9,220.8,142],
   [196.8,186.3,201.6,177.5,196.8,172.7,195,180.4],[219,190.5,220.8,184.6,219,181.7,216.6,186.3],[115.8,304.3,126.6,307.3,130.8,301.4,123,295.5,117,298.4],[151.8,238.3,163.8,238.3,159,226.4,153,230.6],
  ],
  dots:[120,330,125,320,112,310,130,290,135,280,128,270,140,265,145,255,138,250,150,245,118,290,175,260,190,245,205,245,220,220,240,205,255,195,265,175,280,165,295,150,305,130,300,125,150,150,140,190,155,135,170,125,190,120,290,170,270,185,135,310],
};

const panels: Record<string,PanelData> = {
 '1,0':c1_c0,'2,0':c2_c0,'2,1':c2_c1,'3,0':c3_c0,'3,1':c3_c1,'3,2':c3_c2,'4,0':c4_c0,'4,1':c4_c1,'4,2':c4_c2,'4,3':c4_c3,
 '5,0':tp0_c0,'5,1':tp0_c1,'5,2':tp0_c2,'5,3':tp0_c3,'5,4':tp0_c4,'6,0':fw_c0,'6,1':fw_c1,'6,2':fw_c2,'6,3':fw_c3,'6,4':fw_c4,'6,5':fw_tp,
 '7,0':amp_c0,'7,1':amp_c1,'7,2':amp_c2,'7,3':amp_c3,'7,4':amp_c4,'7,5':amp_tp,'7,6':amp_fw,
};

const X0=84.5,Y0=35,P=210,S=200,PL=80,PT=10,PR=30,PB=90;
const charW:Record<string,number>={'.':.318,' ':.318,'=':.838,'+':.838,[M]:.838,c:.55,t:.392,p:.635,f:.352,w:.818,h:.634,m:.974,a:.613};
const tw=(s:string,fs:number)=>[...s].reduce((a,ch)=>a+(charW[ch]??.636)*fs,0);
const FS=13.9, TS=16.67, SS=11.67, FF='"DejaVu Sans"';

const pairs=(a:number[],close=false)=>{const o:{x:number,y:number}[]=[];for(let i=0;i<a.length;i+=2)o.push({x:a[i],y:a[i+1]});if(close&&o.length)o.push({...o[0]});return o;};

function XTick({x,payload,fmt}:any){
  if(!fmt) return <g/>;
  const s=fmt(payload.value); const w=tw(s,FS);
  const cy=PT+S+13.5+(w+8)*.3535;
  return <text x={x-1} y={cy} textAnchor="middle" dominantBaseline="central" fontSize={FS} fontFamily={FF} transform={`rotate(-45 ${x-1} ${cy})`}>{s}</text>;
}
function YTick({y,payload,fmt}:any){
  if(!fmt) return <g/>;
  const s=fmt(payload.value); const w=tw(s,FS);
  const cx=PL-13.5-(w+8)*.3535, cy=y+w*.3535+1;
  return <text x={cx} y={cy} textAnchor="middle" dominantBaseline="central" fontSize={FS} fontFamily={FF} transform={`rotate(-45 ${cx} ${cy})`}>{s}</text>;
}
const NoDot=()=><g/>;

function Panel({row,col}:{row:number,col:number}){
  const diag=row===col; const xd=domains[col]; const yd:[number,number]=diag?[0,200]:domains[row];
  const d=panels[row+','+col];
  const tl={stroke:'#000',strokeWidth:1.1};
  const histData=diag?[...hists[col].map((h,i)=>({x:xd[0]+i*(xd[1]-xd[0])/20,y:h})),{x:xd[1],y:hists[col][19]}]:[];
  const cells:any[]=[];
  if(d){const [c0,r0,rows]=d.bins;rows.forEach((rw,r)=>[...rw].forEach((ch,c)=>{if(ch!=='0')cells.push({x:xd[0]+(c0+c+.5)*(xd[1]-xd[0])/20,y:yd[1]-(r0+r+.5)*(yd[1]-yd[0])/20,l:+ch});}));}
  return <div style={{position:'absolute',left:X0+col*P-PL,top:Y0+row*P-PT}}>
    <ComposedChart width={PL+S+PR} height={PT+S+PB} margin={{top:PT,right:PR,bottom:0,left:0}}>
      <XAxis type="number" dataKey="x" domain={xd} ticks={axisTicks[col]} interval={0} allowDataOverflow axisLine={false} tickSize={5} tickLine={tl} height={PB}
        tick={(p:any)=><XTick {...p} fmt={row===7?tickText[col]:null}/>}/>
      <YAxis type="number" dataKey="y" domain={yd} ticks={diag?[]:axisTicks[row]} interval={0} allowDataOverflow axisLine={false} tickSize={5} tickLine={diag?false:tl} width={PL}
        tick={(p:any)=><YTick {...p} fmt={col===0&&!diag?tickText[row]:null}/>}/>
      {d&&<Scatter data={cells} isAnimationActive={false} shape={(p:any)=><rect x={p.cx-5} y={p.cy-5} width={10} height={10} fill={levels[p.payload.l]}/>}/>}
      {d&&<Scatter data={pairs(d.dots)} isAnimationActive={false} shape={(p:any)=><circle cx={p.cx} cy={p.cy} r={1.5} fill="#000" fillOpacity={.15}/>}/>}
      {d&&d.lines.map((l,i)=><Scatter key={i} data={pairs(l,true)} line={{stroke:'#000',strokeWidth:2,fill:'none'}} lineType="joint" shape={NoDot} isAnimationActive={false}/>)}
      {diag&&<Line data={histData} dataKey="y" type="stepAfter" dot={false} activeDot={false} stroke="#000" strokeWidth={1.4} isAnimationActive={false}/>}
      <ReferenceArea x1={xd[0]} x2={xd[1]} y1={yd[0]} y2={yd[1]} fill="none" stroke="#000" strokeWidth={1.1} fillOpacity={0} strokeOpacity={1} ifOverflow="visible"/>
    </ComposedChart>
  </div>;
}

function Overlay(){
  const t={fontSize:FS,fontFamily:FF,fill:'#000'} as any;
  return <svg width={1770} height={1794} style={{position:'absolute',left:0,top:0,pointerEvents:'none'}}>
    {titles.map((tt,i)=>{const cx=X0+i*P+S/2,base=Y0+i*P-9;const mw=tw(tt[0],TS),sw=Math.max(tw(tt[1],SS),tw(tt[2],SS));const x0=cx-(mw+sw)/2;
      return <g key={i}><text {...t} fontSize={TS} x={x0} y={base}>{tt[0]}</text><text {...t} fontSize={SS} x={x0+mw} y={base-6}>{tt[1]}</text><text {...t} fontSize={SS} x={x0+mw} y={base+4}>{tt[2]}</text></g>;})}
    {names.map((n,i)=><text key={n} {...t} x={X0+i*P+S/2} y={1777} textAnchor="middle">{n}</text>)}
    {names.slice(1).map((n,i)=>{const y=Y0+(i+1)*P+S/2;return <text key={n} {...t} x={21} y={y} textAnchor="middle" transform={`rotate(-90 21 ${y})`}>{n}</text>;})}
    <text {...t} x={X0} y={871}>1e6</text>
    <text {...t} x={X0} y={1081}>+1.36987e3</text>
    <text {...t} x={X0+4*P+S} y={1766} textAnchor="end">1e6</text>
    <text {...t} x={X0+5*P+S} y={1782} textAnchor="end">+1.36987e3</text>
  </svg>;
}

export default function App(){
  const ps:React.ReactNode[]=[];
  for(let r=0;r<8;r++)for(let c=0;c<=r;c++)ps.push(<Panel key={r+'-'+c} row={r} col={c}/>);
  return <div style={{position:'absolute',left:0,top:0,width:1770,height:1794,background:'#fff'}}>{ps}<Overlay/></div>;
}
